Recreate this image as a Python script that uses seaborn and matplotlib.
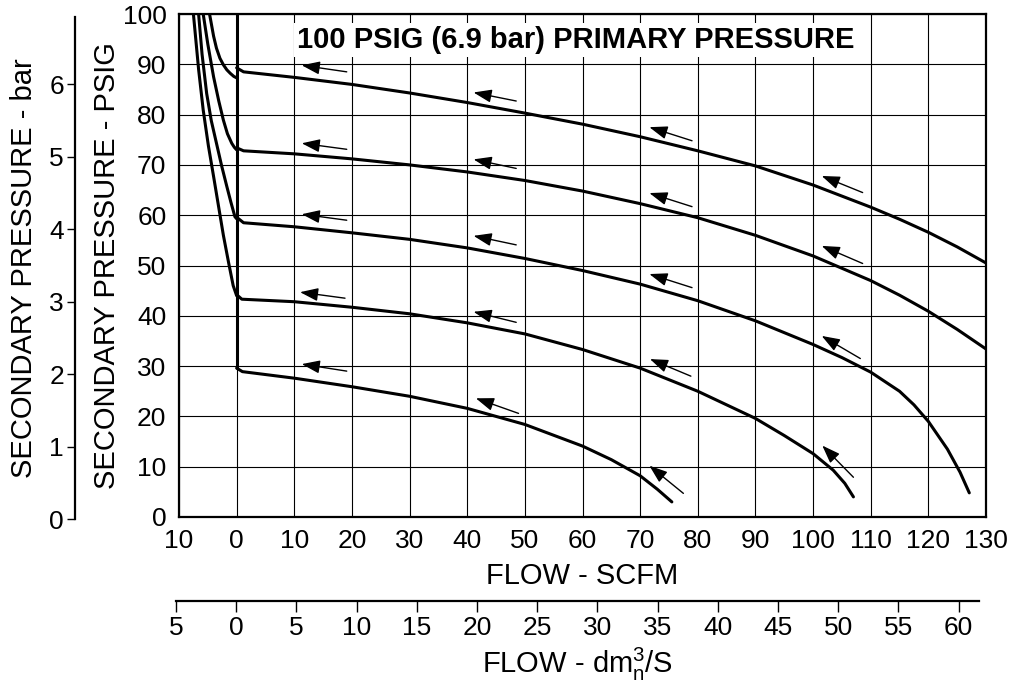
import numpy as np
import pandas as pd
import matplotlib
matplotlib.use('Agg')
import matplotlib.pyplot as plt
import seaborn as sns

# Courbes : debit (SCFM) / pression secondaire (PSIG)
# branches de verrouillage (debit negatif) pour les 4 courbes du haut
lock1_x = [-4.7, -4.0, -3.5, -2.9, -2.3, -1.7, -1.1, -0.5, 0.0]
lock1_y = [100, 95.6, 93.2, 91.2, 89.9, 88.9, 88.2, 87.6, 87.3]
lock2_x = [-5.8, -5.0, -4.0, -3.1, -2.3, -1.6, -0.85, -0.4, 0.0]
lock2_y = [100, 94.0, 87.5, 82.7, 78.9, 76.2, 74.3, 73.5, 73.0]
lock3_x = [-6.6, -6.0, -5.2, -4.4, -3.5, -2.6, -1.7, -1.0, -0.3, 0.0]
lock3_y = [100, 92.0, 84.2, 78.8, 74.3, 69.8, 65.7, 62.6, 59.7, 59.3]
lock4_x = [-7.5, -6.6, -5.8, -4.9, -4.0, -3.1, -2.3, -1.4, -0.6, 0.0]
lock4_y = [100, 89.0, 80.9, 73.8, 67.7, 61.5, 56.0, 50.6, 46.0, 44.0]

# trait vertical a debit nul
zero_x = [0, 0]
zero_y = [100, 29.6]

# courbes de debit
flow1_x = [0, 1.2, 10, 20, 30, 40, 50, 60, 70, 80, 90, 100, 110, 115, 120, 125, 130]
flow1_y = [89.3, 88.5, 87.4, 86.0, 84.3, 82.4, 80.3, 78.1, 75.6, 72.8, 69.8, 66.0, 61.6, 59.2, 56.6, 53.7, 50.5]
flow2_x = [0, 1.2, 10, 20, 30, 40, 50, 60, 70, 80, 90, 100, 110, 115, 120, 125, 130]
flow2_y = [73.4, 72.8, 72.2, 71.2, 70.0, 68.6, 66.9, 64.8, 62.3, 59.5, 56.0, 51.9, 47.0, 44.1, 40.9, 37.3, 33.4]
flow3_x = [0, 1.2, 10, 20, 30, 40, 50, 60, 70, 80, 90, 100, 105, 110, 115, 117.5, 120, 123.3, 125.5, 127.1]
flow3_y = [59.6, 58.5, 57.7, 56.5, 55.2, 53.5, 51.4, 49.0, 46.3, 43.0, 39.0, 34.3, 31.7, 28.8, 25.0, 22.3, 19.0, 13.5, 8.9, 4.8]
flow4_x = [0, 0.9, 10, 20, 30, 40, 50, 60, 70, 80, 90, 95, 100, 103.5, 105.5, 107]
flow4_y = [44.2, 43.3, 42.8, 41.7, 40.4, 38.6, 36.4, 33.3, 29.6, 25.0, 19.6, 16.2, 12.6, 9.3, 6.7, 4.0]
flow5_x = [0, 1.0, 10, 20, 30, 40, 50, 60, 65, 70, 73, 75.5]
flow5_y = [29.6, 28.9, 27.6, 25.9, 24.0, 21.6, 18.4, 14.1, 11.4, 8.2, 5.5, 3.0]

# fleches (pointe, queue)
arrow_tip_x = [11.3, 41.1, 71.6, 101.5,
               11.3, 41.1, 71.6, 101.5,
               11.3, 41.1, 71.6, 101.5,
               11.0, 41.1, 71.7, 101.6,
               11.3, 41.5, 71.6]
arrow_tip_y = [89.8, 84.4, 77.5, 67.8,
               74.3, 71.1, 64.4, 53.9,
               60.2, 55.9, 48.3, 36.0,
               44.7, 40.8, 31.4, 14.2,
               30.4, 23.6, 10.2]
arrow_tail_x = [19.1, 48.5, 79.0, 108.6,
                19.1, 48.5, 79.0, 108.6,
                19.1, 48.5, 79.0, 108.2,
                18.8, 48.5, 78.8, 107.0,
                19.1, 48.9, 77.5]
arrow_tail_y = [88.5, 82.7, 74.8, 64.5,
                73.1, 69.3, 61.7, 50.4,
                59.0, 54.1, 45.6, 31.5,
                43.5, 38.7, 28.0, 7.9,
                29.0, 20.6, 4.7]

flow_ticks = [-10, 0, 10, 20, 30, 40, 50, 60, 70, 80, 90, 100, 110, 120, 130]
flow_labels = ['10', '0', '10', '20', '30', '40', '50', '60', '70', '80', '90', '100', '110', '120', '130']
psig_ticks = [0, 10, 20, 30, 40, 50, 60, 70, 80, 90, 100]
bar_ticks = [0, 1, 2, 3, 4, 5, 6]
dm_ticks = [-5, 0, 5, 10, 15, 20, 25, 30, 35, 40, 45, 50, 55, 60]
dm_labels = ['5', '0', '5', '10', '15', '20', '25', '30', '35', '40', '45', '50', '55', '60']

sns.set_style('white')
plt.rcParams['font.family'] = ['Liberation Sans', 'DejaVu Sans']
plt.rcParams['mathtext.fontset'] = 'custom'
plt.rcParams['mathtext.rm'] = 'Liberation Sans'
plt.rcParams['text.color'] = 'black'
plt.rcParams['axes.labelcolor'] = 'black'
plt.rcParams['xtick.color'] = 'black'
plt.rcParams['ytick.color'] = 'black'

segments = [
    (lock1_x, lock1_y), (lock2_x, lock2_y), (lock3_x, lock3_y), (lock4_x, lock4_y),
    (zero_x, zero_y),
    (flow1_x, flow1_y), (flow2_x, flow2_y), (flow3_x, flow3_y), (flow4_x, flow4_y), (flow5_x, flow5_y),
]
frames = []
for i, (xs, ys) in enumerate(segments):
    frames.append(pd.DataFrame({'flow': xs, 'psig': ys, 'seg': i}))
df = pd.concat(frames, ignore_index=True)

W, H = 1014, 690
fig = plt.figure(figsize=(W / 100, H / 100), dpi=100)
ax = fig.add_axes([179 / W, (H - 517) / H, 807 / W, 503 / H])

sns.lineplot(data=df, x='flow', y='psig', units='seg', estimator=None, sort=False,
             color='black', linewidth=2.2, ax=ax, zorder=3)

for tx, ty, sx, sy in zip(arrow_tip_x, arrow_tip_y, arrow_tail_x, arrow_tail_y):
    ax.annotate('', xy=(tx, ty), xytext=(sx, sy),
                arrowprops=dict(arrowstyle='-|>,head_length=0.55,head_width=0.2',
                                mutation_scale=20, color='black', lw=1.0,
                                shrinkA=0, shrinkB=0), zorder=4)

ax.set_xlim(-10, 130)
ax.set_ylim(0, 100)
ax.set_xticks(flow_ticks)
ax.set_xticklabels(flow_labels)
ax.set_yticks(psig_ticks)
ax.grid(True, color='black', linewidth=0.8)
ax.set_axisbelow(True)
ax.tick_params(axis='both', length=0, labelsize=19, colors='black')
ax.tick_params(axis='x', pad=9)
ax.tick_params(axis='y', pad=9)
for s in ax.spines.values():
    s.set_visible(True)
    s.set_color('black')
    s.set_linewidth(1.6)
ax.set_xlabel('FLOW - SCFM', fontsize=21, labelpad=6)
ax.set_ylabel('SECONDARY PRESSURE - PSIG', fontsize=21, labelpad=1)

ax.text(10.4, 93.2, '100 PSIG (6.9 bar) PRIMARY PRESSURE', fontsize=21,
        fontweight='bold', ha='left', va='baseline', zorder=5,
        bbox=dict(facecolor='white', edgecolor='none', pad=2))

# echelle en bar
ax_bar = fig.add_axes([75 / W, (H - 519.3) / H, 0.0005, 502 / H])
ax_bar.set_ylim(0, 6.92)
ax_bar.set_yticks(bar_ticks)
ax_bar.set_xticks([])
ax_bar.patch.set_visible(False)
for k in ['top', 'right', 'bottom']:
    ax_bar.spines[k].set_visible(False)
ax_bar.spines['left'].set_linewidth(1.6)
ax_bar.spines['left'].set_color('black')
ax_bar.tick_params(axis='y', length=6, width=1.0, colors='black', pad=2,
                   labelsize=19, direction='out', left=True)
ax_bar.set_ylabel('SECONDARY PRESSURE - bar', fontsize=21, labelpad=8)

# echelle en dm3/s
ax_dm = fig.add_axes([176 / W, (H - 601) / H, 803 / W, 0.0005])
ax_dm.set_xlim(-5, 61.7)
ax_dm.set_xticks(dm_ticks)
ax_dm.set_xticklabels(dm_labels)
ax_dm.set_yticks([])
ax_dm.patch.set_visible(False)
for k in ['top', 'right', 'left']:
    ax_dm.spines[k].set_visible(False)
ax_dm.spines['bottom'].set_linewidth(1.6)
ax_dm.spines['bottom'].set_color('black')
ax_dm.tick_params(axis='x', length=8, width=1.0, colors='black', pad=3,
                  labelsize=19, direction='out', bottom=True)
ax_dm.set_xlabel(r'FLOW - dm$_\mathrm{n}^\mathrm{3}$/S', fontsize=21, labelpad=4)

fig.savefig('out.png', dpi=100)
